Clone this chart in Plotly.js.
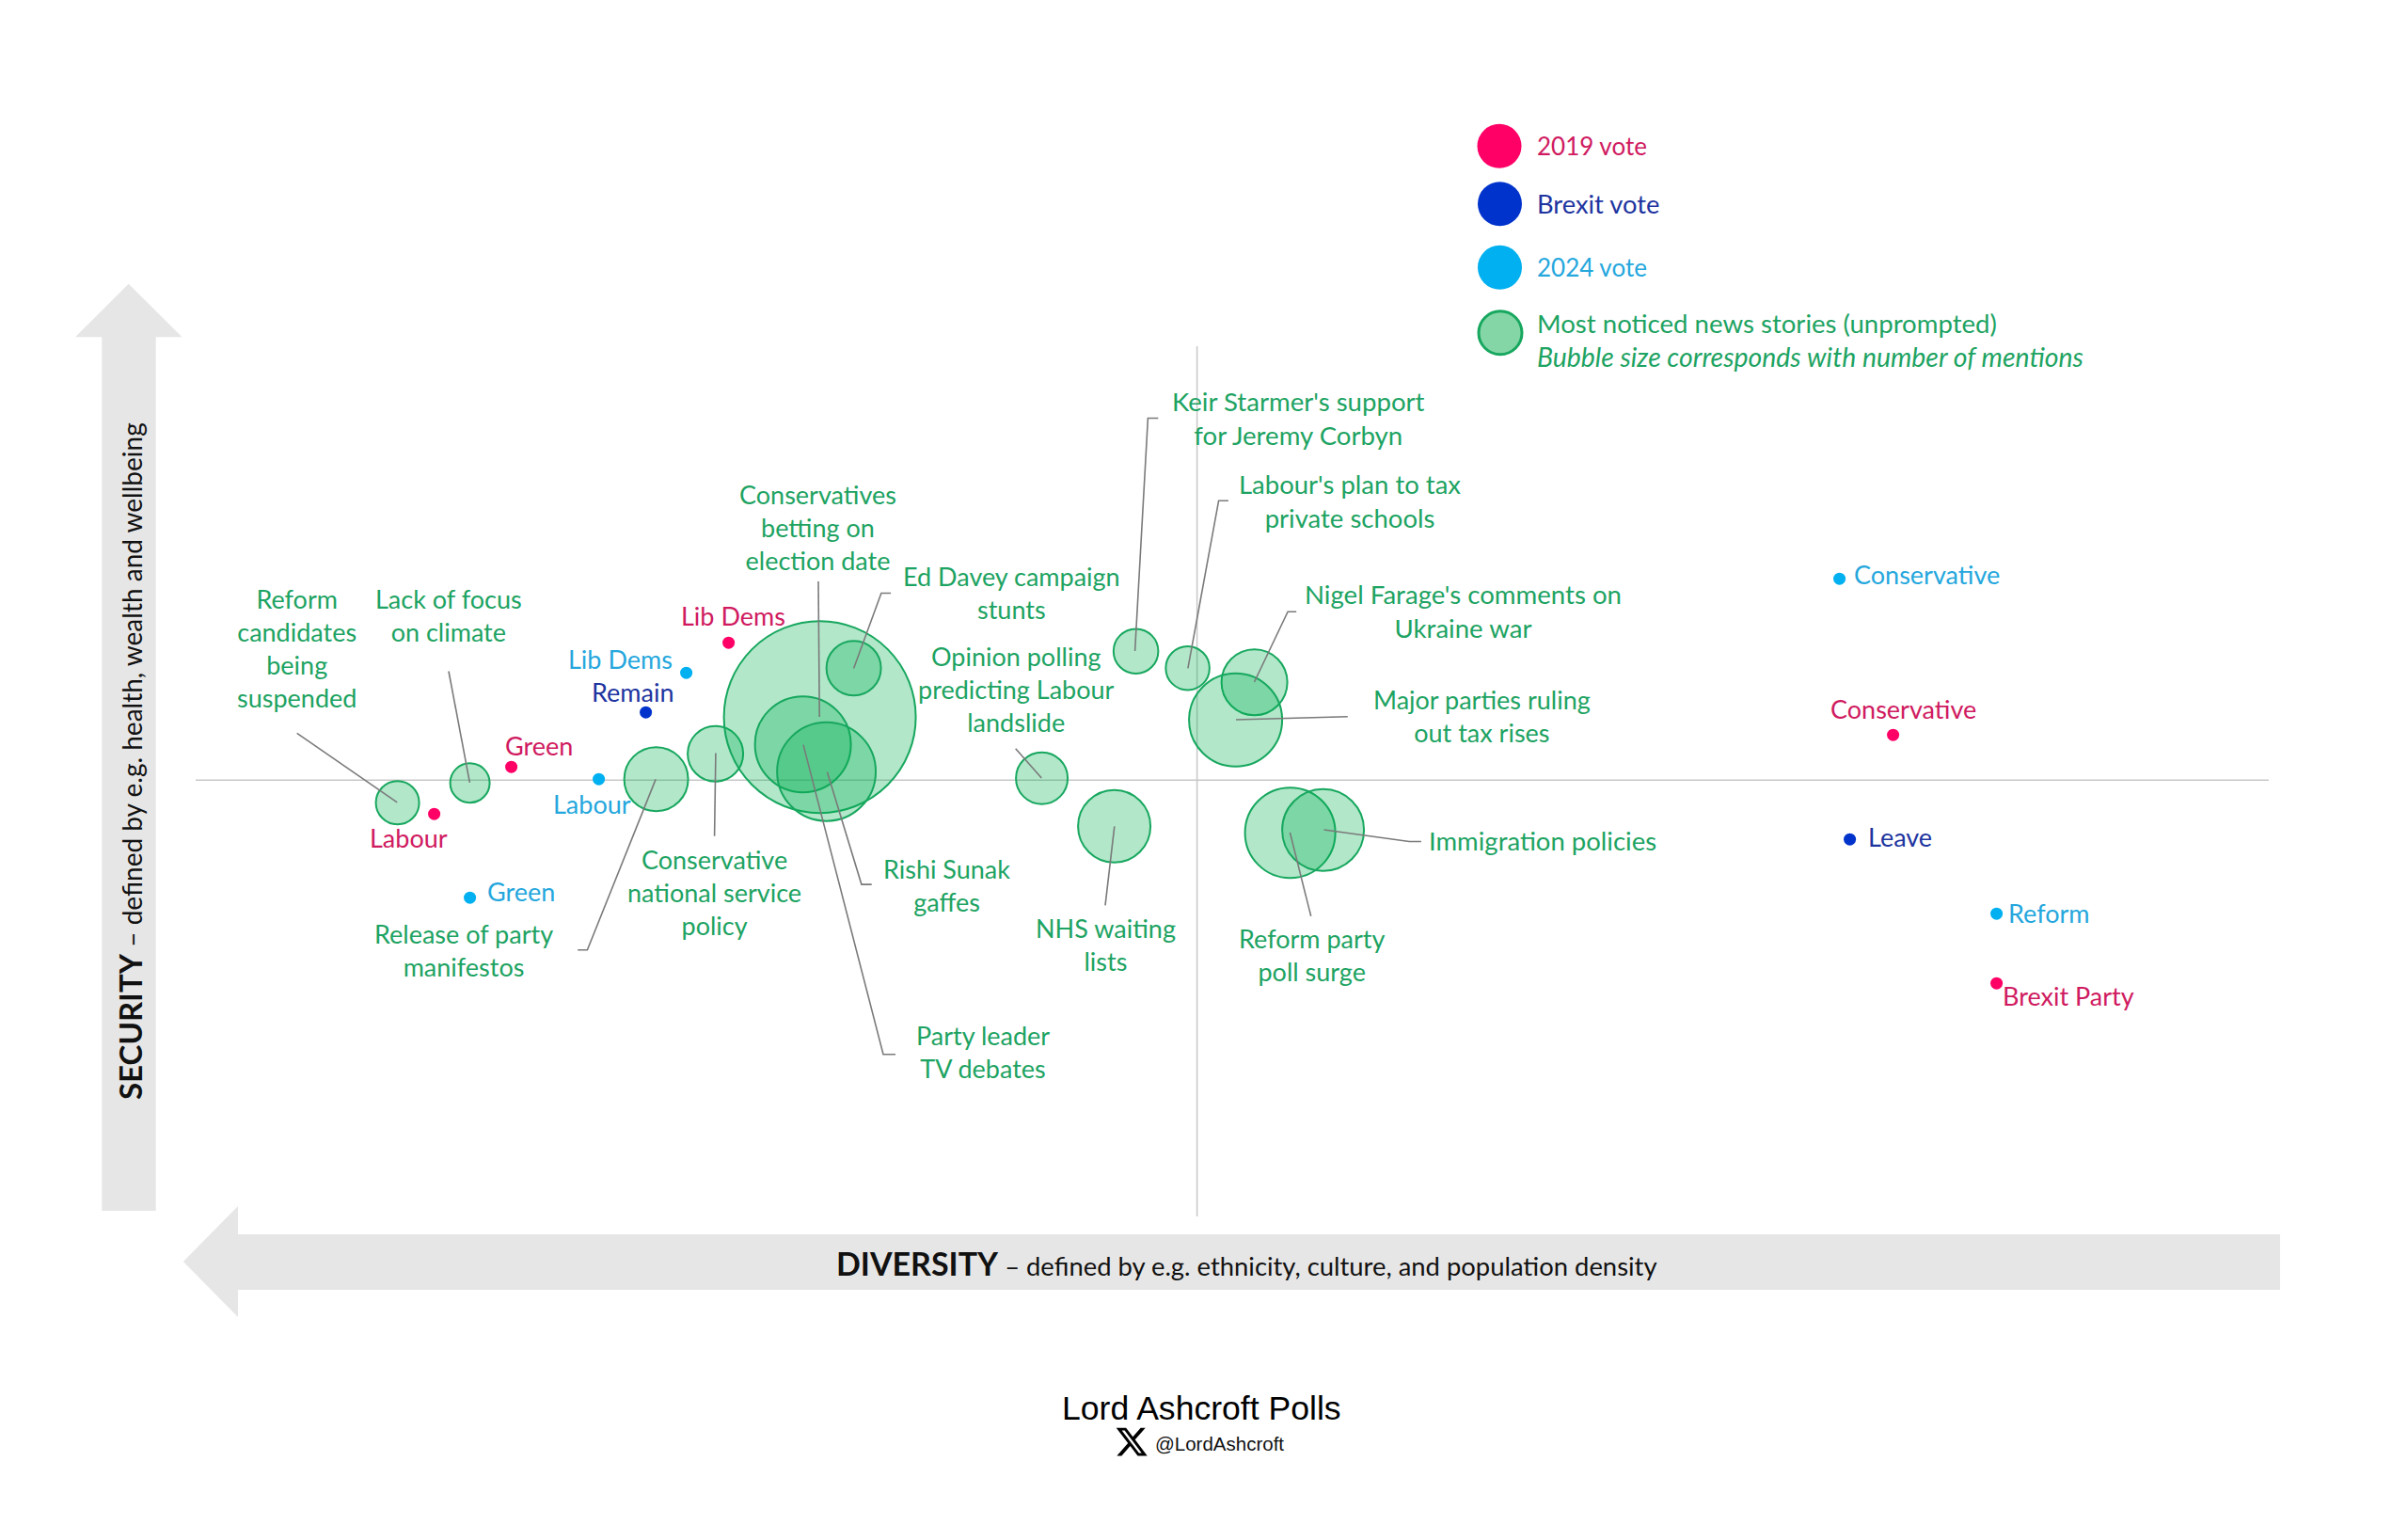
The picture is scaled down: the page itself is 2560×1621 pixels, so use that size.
<!DOCTYPE html>
<html>
<head>
<meta charset="utf-8">
<script src="https://cdn.plot.ly/plotly-3.0.1.min.js"></script>
<style>html,body{margin:0;padding:0;background:#fff}</style>
</head>
<body>
<div id="chart" style="width:2560px;height:1621px"></div>
<script>
// ---- data, in index units (0,0 = where the two axes cross) ----
const storyNames = ["Reform candidates being suspended","Lack of focus on climate","Release of party manifestos","Conservative national service policy","Conservatives betting on election date","Ed Davey campaign stunts","Party leader TV debates","Rishi Sunak gaffes","Opinion polling predicting Labour landslide","NHS waiting lists","Keir Starmer's support for Jeremy Corbyn","Labour's plan to tax private schools","Nigel Farage's comments on Ukraine war","Major parties ruling out tax rises","Reform party poll surge","Immigration policies"];
const storyDiversity = [-85.0,-77.3,-57.5,-51.2,-40.1,-36.5,-41.9,-39.4,-16.5,-8.8,-6.5,-1.0,6.1,4.1,9.9,13.4];
const storySecurity  = [-2.4,-0.3,0.1,2.8,6.7,11.9,3.8,0.9,0.2,-4.9,13.7,11.9,10.4,6.4,-5.6,-5.3];
const storyMentions  = [21.2,17.6,46.2,34.8,416,33.6,104,110,30.3,59.3,22.6,21.6,49,98,92.2,75.7];

const vote2019Names = ["Lib Dems","Green","Labour","Conservative","Brexit Party"];
const vote2019X = [-49.8,-72.9,-81.1,74.0,85.0];
const vote2019Y = [14.6,1.4,-3.6,4.8,-21.6];

const brexitNames = ["Remain","Leave"];
const brexitX = [-58.6,69.4];
const brexitY = [7.2,-6.3];

const vote2024Names = ["Lib Dems","Labour","Green","Conservative","Reform"];
const vote2024X = [-54.3,-63.6,-77.3,68.3,85.0];
const vote2024Y = [11.4,0.1,-12.5,21.4,-14.2];

// ---- page geometry ----
const W = 2560, H = 1621, OX = 1272.6, OY = 829.2, U = 10;
const ux = p => (p - OX) / U, uy = p => (OY - p) / U;

const GREEN = "#1DA362", PINK = "#D01A60", NAVY = "#1E349F", CYAN = "#25A7DD";
const LABEL_FONT = "Lato, 'Open Sans', sans-serif";
const LABEL_SIZE = 27;
const LIFT = 1.5; // text sits slightly higher than its measured centre in this font

// label text, page x, page y, colour, optional size
const labels = [
  ["Reform<br>candidates<br>being<br>suspended",315.7,690,GREEN],
  ["Lack of focus<br>on climate",476.5,655.4,GREEN],
  ["Release of party<br>manifestos",493,1011.7,GREEN],
  ["Conservative<br>national service<br>policy",759.6,950,GREEN],
  ["Conservatives<br>betting on<br>election date",869.3,562.4,GREEN],
  ["Ed Davey campaign<br>stunts",1075.7,631.9,GREEN],
  ["Opinion polling<br>predicting Labour<br>landslide",1080.9,733.8,GREEN],
  ["Keir Starmer's support<br>for Jeremy Corbyn",1380.5,445.9,GREEN,27.6],
  ["Labour's plan to tax<br>private schools",1435,534,GREEN,27.5],
  ["Nigel Farage's comments on<br>Ukraine war",1555.6,651,GREEN,27.6],
  ["Major parties ruling<br>out tax rises",1575.7,762.7,GREEN],
  ["Immigration policies",1640,895,GREEN,27.5],
  ["Reform party<br>poll surge",1394.9,1016,GREEN],
  ["NHS waiting<br>lists",1175,1005,GREEN],
  ["Rishi Sunak<br>gaffes",1006.2,942.3,GREEN],
  ["Party leader<br>TV debates",1045,1119,GREEN],
  [vote2019Names[0],779.4,655.8,PINK],
  [vote2019Names[1],573.4,793.5,PINK],
  [vote2019Names[2],434.4,892.3,PINK],
  [vote2019Names[3],2023.3,754.7,PINK],
  [vote2019Names[4],2199,1060,PINK],
  [brexitNames[0],672.2,736.5,NAVY],
  [brexitNames[1],2020,891,NAVY],
  [vote2024Names[0],659.5,702,CYAN],
  [vote2024Names[1],629.5,855.9,CYAN],
  [vote2024Names[2],553.6,948.5,CYAN],
  [vote2024Names[3],2048.5,611.7,CYAN],
  [vote2024Names[4],2178.7,972.3,CYAN]
];

const leaders = [
  [[315.7,779.4],[422.2,852.8]],
  [[477,713.5],[499.4,831.8]],
  [[614.2,1009.8],[624.4,1009.8],[697.1,828.4]],
  [[759.6,888.8],[760.9,800.4]],
  [[870,617.9],[871.2,762]],
  [[947.1,630.5],[936.9,630.5],[907.6,710.5]],
  [[854,791.6],[939,1120.7],[952,1120.7]],
  [[879.5,820.7],[915.9,940.1],[926.7,940.1]],
  [[1079.7,795.8],[1107.3,827]],
  [[1175,962.4],[1184.8,878.4]],
  [[1231.3,444.5],[1220.4,444.5],[1206.6,692]],
  [[1305.9,532.2],[1295.6,532.2],[1262.9,710.4]],
  [[1378.2,650.2],[1369.1,650.2],[1333.5,725]],
  [[1432.8,761.8],[1314,765]],
  [[1510.9,894.5],[1498.2,894.5],[1407.5,882]],
  [[1393.7,973.9],[1371.4,884.9]]
];

const toPath = (pts, close) => pts.map((p,i)=>(i?"L":"M")+ux(p[0])+" "+uy(p[1])).join(" ")+(close?" Z":"");

const shapes = [];
const addPoly = (pts, fill) => shapes.push({type:"path",layer:"below",path:toPath(pts,true),fillcolor:fill,line:{width:0}});
// axis arrows
addPoly([[108.3,1287],[108.3,358.3],[80,358.3],[136.7,301.7],[193.5,358.3],[165.7,358.3],[165.7,1287]],"#E7E6E6");
addPoly([[2424,1312],[253,1312],[253,1282],[194.8,1341],[253,1400],[253,1371],[2424,1371]],"#E7E6E6");
// crossing axes
shapes.push({type:"line",layer:"below",x0:ux(208),x1:ux(2412),y0:0,y1:0,line:{color:"#C8C8C8",width:1.5}});
shapes.push({type:"line",layer:"below",x0:0,x1:0,y0:uy(368),y1:uy(1293),line:{color:"#C8C8C8",width:1.5}});
// leader lines
leaders.forEach(l=>shapes.push({type:"path",layer:"above",path:toPath(l,false),fillcolor:"rgba(0,0,0,0)",line:{color:"#7A7A7A",width:1.6}}));
// X logo
const logoS = 33/21.57, logoX = 1186.7-1.254*logoS, logoY = 1517.7-2.25*logoS;
const lg = pts => pts.map(p=>[logoX+p[0]*logoS,logoY+p[1]*logoS]);
shapes.push({type:"path",layer:"above",fillcolor:"#000",line:{width:0},
  path:toPath(lg([[18.244,2.25],[21.552,2.25],[14.325,10.51],[22.827,21.75],[16.17,21.75],[10.956,14.933],[4.99,21.75],[1.68,21.75],[9.41,12.915],[1.254,2.25],[8.08,2.25],[12.793,8.481]]),true)+" "+
       toPath(lg([[17.083,19.77],[18.916,19.77],[7.084,4.126],[5.117,4.126]]),true)});

const annotations = labels.map(l=>({x:ux(l[1]),y:uy(l[2]-LIFT),text:l[0],showarrow:false,xanchor:"center",yanchor:"middle",align:"center",
  font:{family:LABEL_FONT,size:l[4]||LABEL_SIZE,color:l[3]}}));
const leftLabel = (t,x,y,c,s) => annotations.push({x:ux(x),y:uy(y),text:t,showarrow:false,xanchor:"left",yanchor:"middle",align:"left",
  font:{family:LABEL_FONT,size:s,color:c}});
leftLabel("2019 vote",1632,155,PINK,26);
leftLabel("Brexit vote",1632,216.5,NAVY,27.3);
leftLabel("2024 vote",1632,284,CYAN,26);
leftLabel("Most noticed news stories (unprompted)",1632,343.5,GREEN,27.6);
leftLabel("<i>Bubble size corresponds with number of mentions</i>",1632,378.5,GREEN,28.4);

annotations.push({x:ux(138),y:uy(809),textangle:-90,showarrow:false,xanchor:"center",yanchor:"middle",
  text:"<b><span style='font-size:33px'>SECURITY</span></b> – defined by e.g. health, wealth and wellbeing",
  font:{family:LABEL_FONT,size:28,color:"#111"}});
annotations.push({x:ux(1325),y:uy(1342),showarrow:false,xanchor:"center",yanchor:"middle",
  text:"<b><span style='font-size:34px'>DIVERSITY</span></b> – defined by e.g. ethnicity, culture, and population density",
  font:{family:LABEL_FONT,size:27.4,color:"#111"}});
annotations.push({x:ux(1277),y:uy(1497),showarrow:false,xanchor:"center",yanchor:"middle",text:"Lord Ashcroft Polls",
  font:{family:"'Liberation Sans',Arial,sans-serif",size:35.6,color:"#000"}});
annotations.push({x:ux(1296),y:uy(1534),showarrow:false,xanchor:"center",yanchor:"middle",text:"@LordAshcroft",
  font:{family:"'Liberation Sans',Arial,sans-serif",size:20.5,color:"#111"}});

const dots = (x,y,c,n) => ({type:"scatter",mode:"markers",x,y,text:n,name:n.length?n[0]:"",hoverinfo:"text",showlegend:false,cliponaxis:false,
  marker:{size:13,color:c,line:{width:0}}});

const traces = [
  {type:"scatter",mode:"markers",x:storyDiversity,y:storySecurity,text:storyNames,hoverinfo:"text",showlegend:false,cliponaxis:false,
   marker:{size:storyMentions,sizemode:"area",sizeref:0.02,opacity:1,color:"rgba(0,176,80,0.30)",line:{color:"#17A75E",width:2}}},
  dots(vote2019X,vote2019Y,"#FF0066",vote2019Names),
  dots(brexitX,brexitY,"#0033CC",brexitNames),
  dots(vote2024X,vote2024Y,"#00B0F0",vote2024Names),
  // legend keys
  {type:"scatter",mode:"markers",showlegend:false,hoverinfo:"skip",
   x:[ux(1594),ux(1594.5),ux(1594.5)],y:[uy(155.3),uy(216.7),uy(284.3)],
   marker:{size:47,opacity:1,color:["#FF0066","#0033CC","#00B0F0"],line:{width:0}}},
  {type:"scatter",mode:"markers",showlegend:false,hoverinfo:"skip",
   x:[ux(1595)],y:[uy(353.7)],
   marker:{size:46,color:"#84D6A6",line:{color:"#17A75E",width:3}}}
];

const layout = {
  width:W,height:H,margin:{l:0,r:0,t:0,b:0,pad:0},autosize:false,
  paper_bgcolor:"#fff",plot_bgcolor:"#fff",showlegend:false,
  xaxis:{range:[ux(0),ux(W)],visible:false,fixedrange:true},
  yaxis:{range:[uy(H),uy(0)],visible:false,fixedrange:true},
  shapes,annotations
};
Plotly.newPlot("chart",traces,layout,{staticPlot:true,displayModeBar:false});
</script>
</body>
</html>
